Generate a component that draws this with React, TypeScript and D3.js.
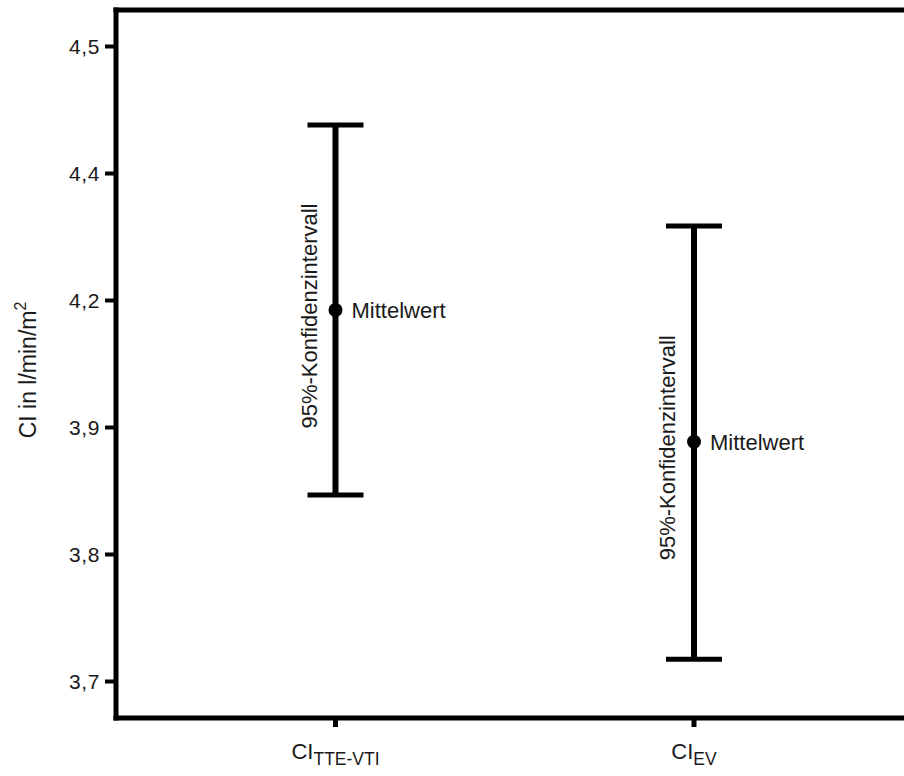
import React from "react";
import * as d3 from "d3";

// Cardiac index: mean and 95% confidence interval per method
const categories = ["TTE-VTI", "EV"];
const means = [4.168, 4.002];
const lowerCI = [3.935, 3.728];
const upperCI = [4.401, 4.274];

// Axis ticks (evenly spaced) and the labels printed at them
const tickValues = [4.5, 4.34, 4.18, 4.02, 3.86, 3.7];
const tickLabels = ["4,5", "4,4", "4,2", "3,9", "3,8", "3,7"];

const W = 904;
const H = 776;
const FONT = "'Liberation Sans', Arial, sans-serif";

export default function App() {
  const frameLeft = 116;
  const frameTop = 10;
  const frameBottom = 718;

  const y = d3.scaleLinear().domain([3.7, 4.5]).range([681.5, 46.5]);
  const x = d3.scalePoint<string>().domain(categories).range([335.5, 694]);

  const capHalf = 28;

  return (
    <svg
      width={W}
      height={H}
      style={{ position: "absolute", left: 0, top: 0, display: "block", background: "#fff" }}
      fontFamily={FONT}
    >
      <rect x={0} y={0} width={W} height={H} fill="#fff" />

      {/* frame: top, left, bottom */}
      <g stroke="#000" strokeWidth={5} strokeLinecap="square" fill="none">
        <line x1={frameLeft} y1={frameTop} x2={W + 5} y2={frameTop} />
        <line x1={frameLeft} y1={frameTop} x2={frameLeft} y2={frameBottom} />
        <line x1={frameLeft} y1={frameBottom} x2={W + 5} y2={frameBottom} />
      </g>

      {/* y axis ticks and labels */}
      {tickValues.map((v, i) => (
        <g key={"yt" + i}>
          <line x1={105} x2={frameLeft} y1={y(v)} y2={y(v)} stroke="#000" strokeWidth={4} />
          <text
            x={100}
            y={y(v)}
            dy="0.35em"
            textAnchor="end"
            fontSize={21}
            fill="#1a1a1a"
            letterSpacing={0.6}
          >
            {tickLabels[i]}
          </text>
        </g>
      ))}

      {/* y axis title */}
      <text
        transform={`translate(36, 370) rotate(-90)`}
        textAnchor="middle"
        fontSize={23}
        fill="#1a1a1a"
      >
        CI in l/min/m
        <tspan fontSize={16} dy={-10}>2</tspan>
      </text>

      {/* x axis ticks and category labels */}
      {categories.map((c) => (
        <g key={"xt" + c}>
          <line x1={x(c)} x2={x(c)} y1={frameBottom} y2={727} stroke="#000" strokeWidth={5} />
          <text x={x(c)} y={759} textAnchor="middle" fontSize={22} fill="#1a1a1a">
            CI
            <tspan fontSize={17.5} dy={6}>{c}</tspan>
          </text>
        </g>
      ))}

      {/* confidence intervals with means */}
      {categories.map((c, i) => {
        const cx = x(c) as number;
        const yTop = y(upperCI[i]);
        const yBot = y(lowerCI[i]);
        const yMean = y(means[i]);
        return (
          <g key={"ci" + c}>
            <line x1={cx} x2={cx} y1={yTop} y2={yBot} stroke="#000" strokeWidth={6} />
            <line x1={cx - capHalf} x2={cx + capHalf} y1={yTop} y2={yTop} stroke="#000" strokeWidth={5} />
            <line x1={cx - capHalf} x2={cx + capHalf} y1={yBot} y2={yBot} stroke="#000" strokeWidth={5} />
            <circle cx={cx} cy={yMean} r={7} fill="#000" />
            <text x={cx + 16} y={yMean + 8} fontSize={22} fill="#1a1a1a">
              Mittelwert
            </text>
            <text
              transform={`translate(${cx - 19}, ${yMean + 6}) rotate(-90)`}
              textAnchor="middle"
              fontSize={22}
              fill="#1a1a1a"
            >
              95%-Konfidenzintervall
            </text>
          </g>
        );
      })}
    </svg>
  );
}
